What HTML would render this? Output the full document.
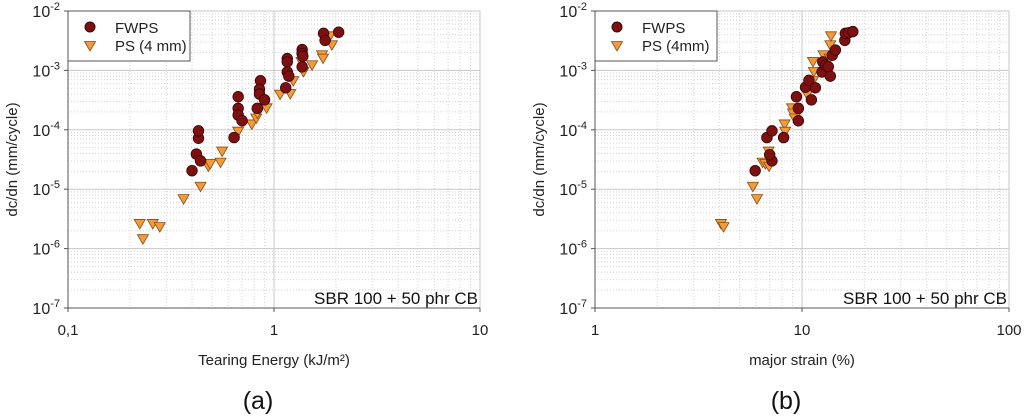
<!DOCTYPE html>
<html><head><meta charset="utf-8"><style>
body{margin:0;background:#fff;width:1024px;height:419px;overflow:hidden}
svg{display:block;font-family:"Liberation Sans",Arial,sans-serif}
</style></head><body>
<svg id="fig" width="1024" height="419" viewBox="0 0 1024 419"></svg>
<script>
const yTickExp=[-2,-3,-4,-5,-6,-7];
const aXTicks=["0,1","1","10"];
const bXTicks=["1","10","100"];
const aFwpsX=[0.40,0.42,0.43,0.43,0.44,0.64,0.67,0.67,0.67,0.70,0.83,0.86,0.85,0.85,0.90,1.14,1.16,1.16,1.16,1.18,1.37,1.37,1.38,1.37,1.74,1.77,2.06];
const aFwpsY=[2.05e-5,3.9e-5,7.2e-5,9.6e-5,3.0e-5,7.4e-5,3.6e-4,2.3e-4,1.77e-4,1.42e-4,2.3e-4,6.7e-4,4.8e-4,4.0e-4,3.2e-4,5.1e-4,1.58e-3,1.39e-3,9.4e-4,8.0e-4,2.24e-3,1.92e-3,1.73e-3,1.15e-3,4.2e-3,3.2e-3,4.4e-3];
const aPsX=[0.223,0.231,0.258,0.279,0.364,0.44,0.48,0.49,0.55,0.56,0.67,0.78,0.82,0.83,0.92,1.07,1.20,1.24,1.36,1.39,1.53,1.71,1.73,1.87,1.91];
const aPsY=[2.6e-6,1.44e-6,2.6e-6,2.3e-6,6.8e-6,1.1e-5,2.4e-5,2.65e-5,2.8e-5,4.3e-5,9.3e-5,1.23e-4,1.55e-4,1.88e-4,2.3e-4,3.9e-4,4.0e-4,6.6e-4,1.39e-3,9.4e-4,1.22e-3,1.8e-3,1.58e-3,3.75e-3,2.65e-3];
const bFwpsX=[5.94,6.77,7.16,7.16,6.98,8.15,9.4,9.6,9.6,10.4,10.8,11.1,11.6,12.5,12.6,13.0,13.4,13.7,14.0,14.5,16.1,16.2,16.8,17.6];
const bFwpsY=[2.05e-5,7.4e-5,9.6e-5,3.0e-5,3.8e-5,7.4e-5,3.6e-4,2.3e-4,1.42e-4,5.2e-4,6.8e-4,3.2e-4,5.1e-4,9.4e-4,1.39e-3,1.22e-3,1.15e-3,8.0e-4,1.8e-3,2.2e-3,3.2e-3,4.2e-3,4.3e-3,4.5e-3];
const bPsX=[4.06,4.18,5.79,6.06,6.45,6.65,6.9,6.93,8.24,8.3,8.95,9.05,9.22,10.6,11.3,11.4,11.3,12.7,12.8,13.6,13.7,13.8];
const bPsY=[2.6e-6,2.3e-6,1.1e-5,6.8e-6,2.8e-5,2.65e-5,4.3e-5,2.4e-5,1.23e-4,9.3e-5,2.3e-4,1.88e-4,1.55e-4,3.9e-4,1.39e-3,9.4e-4,6.6e-4,1.8e-3,1.22e-3,1.58e-3,2.65e-3,3.75e-3];

const NS="http://www.w3.org/2000/svg";
const svg=document.getElementById('fig');
function mk(tag,attrs,parent,text){const e=document.createElementNS(NS,tag);for(const k in attrs)e.setAttribute(k,attrs[k]);if(text!==undefined)e.textContent=text;(parent||svg).appendChild(e);return e;}

function panel(id,L,R,xMinExp,xTicks,xTitle,fx,fy,px,py,psLabel,letter){
  const T=11,B=308;
  const g=mk('g',{});
  
  
  const xs=v=>L+(Math.log10(v)-xMinExp)/2*(R-L);
  const ys=v=>T+(-2-Math.log10(v))/5*(B-T);
  for(let d=0;d<2;d++)for(let m=2;m<10;m++){const x=xs(Math.pow(10,xMinExp+d)*m);
    const l=mk('line',{x1:x,x2:x,y1:T,y2:B,stroke:'#d4d4d4','stroke-width':1,'stroke-dasharray':'1,2'},g);
    }
  for(let e=-7;e<-2;e++)for(let m=2;m<10;m++){const y=ys(Math.pow(10,e)*m);
    const l=mk('line',{x1:L,x2:R,y1:y,y2:y,stroke:'#d4d4d4','stroke-width':1,'stroke-dasharray':'1,2'},g);
    }
  for(const e of yTickExp){const y=ys(Math.pow(10,e));
    const l=mk('line',{x1:L,x2:R,y1:y,y2:y,stroke:'#c8c8c8','stroke-width':1},g);
    
    mk('line',{x1:L-4,x2:L,y1:y,y2:y,stroke:'#555'},g);
    const t=mk('text',{x:L-8,y:y+6,'text-anchor':'end','font-size':16,fill:'#222'},g);
    
    mk('tspan',{},t,'10');mk('tspan',{dy:-7,'font-size':11},t,String(e));}
  xTicks.forEach((lab,i)=>{const x=xs(Math.pow(10,xMinExp+i));
    const l=mk('line',{x1:x,x2:x,y1:T,y2:B,stroke:'#c8c8c8'},g);
    
    mk('line',{x1:x,x2:x,y1:B,y2:B+4,stroke:'#555'},g);
    const t=mk('text',{x:x,y:335,'text-anchor':'middle','font-size':15,fill:'#222'},g,lab);
    });
  mk('line',{x1:L,x2:L,y1:T,y2:B,stroke:'#555'},g);
  mk('line',{x1:L,x2:R,y1:B,y2:B,stroke:'#555'},g);
  const yt=mk('text',{x:0,y:0,transform:`translate(${L-51},${(T+B)/2}) rotate(-90)`,'text-anchor':'middle','font-size':15,fill:'#222'},g,'dc/dn (mm/cycle)');
  
  const xt=mk('text',{x:(L+R)/2,y:365,'text-anchor':'middle','font-size':15,fill:'#222'},g,xTitle);
  
  const an=mk('text',{x:R-2,y:304,'text-anchor':'end','font-size':17,fill:'#111'},g,'SBR 100 + 50 phr CB');
  
  const lt=mk('text',{x:(L+R)/2-16,y:409,'text-anchor':'middle','font-size':25,fill:'#111'},g,letter);
  
  const tri=(x,y)=>`${x-5.5},${y-4.5} ${x+5.5},${y-4.5} ${x},${y+5}`;
  px.forEach((v,i)=>{const p=mk('polygon',{points:tri(xs(v),ys(py[i])),fill:'#f29b3a',stroke:'#8a4a10','stroke-width':0.8},g);
    });
  fx.forEach((v,i)=>{const c=mk('circle',{cx:xs(v),cy:ys(fy[i]),r:5.3,fill:'#7d1010',stroke:'#3a0505','stroke-width':0.8},g);
    });
  const lg=mk('g',{},g);
  
  mk('rect',{x:L,y:T,width:122,height:50,fill:'#fff',stroke:'#555'},lg);
  mk('circle',{cx:L+22,cy:T+16,r:5,fill:'#7d1010',stroke:'#3a0505'},lg);
  mk('text',{x:L+47,y:T+22,'font-size':15,fill:'#222'},lg,'FWPS');
  mk('polygon',{points:tri(L+22,T+35),fill:'#f29b3a',stroke:'#8a4a10','stroke-width':0.8},lg);
  mk('text',{x:L+47,y:T+40,'font-size':15,fill:'#222'},lg,psLabel);
}
panel('tearing-energy',68,480,-1,aXTicks,'Tearing Energy (kJ/m²)',aFwpsX,aFwpsY,aPsX,aPsY,'PS (4 mm)','(a)');
panel('major-strain',595,1009,0,bXTicks,'major strain (%)',bFwpsX,bFwpsY,bPsX,bPsY,'PS (4mm)','(b)');
</script>
</body></html>
